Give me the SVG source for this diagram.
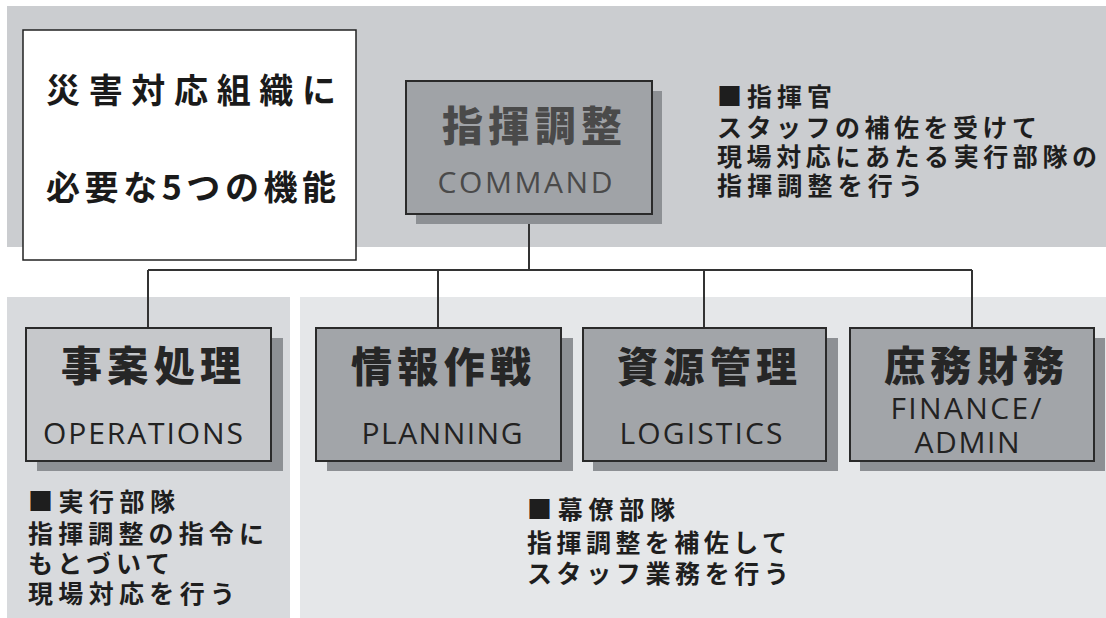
<svg xmlns="http://www.w3.org/2000/svg" width="1106" height="618" viewBox="0 0 1106 618">
<style>
.jp{font-family:"Noto Sans CJK JP","Noto Sans CJK SC",sans-serif;font-weight:700}
.en{font-family:"Open Sans","Liberation Sans",sans-serif;font-weight:400}
.box{stroke:#2a2a2a;stroke-width:2}
.sh{fill:#8d9094}
.big{font-size:41px;fill:#262626;font-weight:900}
.lab{font-size:30px;fill:#222}
.desc{font-size:25px;fill:#1e1e1e}
.conn{stroke:#333;stroke-width:2;fill:none}
</style>
<rect width="1106" height="618" fill="#ffffff"/>
<rect x="7" y="6" width="1099" height="241" fill="#cbcdd0"/>
<rect x="7" y="297" width="283" height="321" fill="#d8dadd"/>
<rect x="300" y="297" width="806" height="321" fill="#e5e7e9"/>

<g id="title">
<rect x="23" y="30" width="333" height="230" fill="#ffffff" stroke="#222" stroke-width="1.5"/>
<text class="jp" x="46" y="103" font-size="34" fill="#1a1a1a" textLength="290" lengthAdjust="spacing">災害対応組織に</text>
<text class="jp" x="46" y="200" font-size="34" fill="#1a1a1a" textLength="290" lengthAdjust="spacing">必要な5つの機能</text>
</g>

<g id="connectors">
<path class="conn" d="M529 214V270M148 270H972M148 270V328M438 270V328M704 270V328M972 270V328"/>
</g>

<g id="command">
<rect class="sh" x="416" y="91" width="246" height="133"/>
<rect class="box" x="406" y="81" width="246" height="133" fill="#a0a3a7"/>
<text class="jp big" x="532" y="141" text-anchor="middle" style="fill:#4a4a4a" textLength="180" lengthAdjust="spacing">指揮調整</text>
<text class="en lab" x="525" y="193" text-anchor="middle" style="fill:#4a4a4a" textLength="175" lengthAdjust="spacing">COMMAND</text>
</g>

<g id="command-desc">
<text class="jp desc" x="717" y="106" textLength="115" lengthAdjust="spacing">■指揮官</text>
<text class="jp desc" x="717" y="137" textLength="320" lengthAdjust="spacing">スタッフの補佐を受けて</text>
<text class="jp desc" x="717" y="166" textLength="380" lengthAdjust="spacing">現場対応にあたる実行部隊の</text>
<text class="jp desc" x="717" y="195" textLength="206" lengthAdjust="spacing">指揮調整を行う</text>
</g>

<g id="operations">
<rect class="sh" x="37" y="338" width="246" height="133"/>
<rect class="box" x="26" y="328" width="245" height="133" fill="#c6c8cb"/>
<text class="jp big" x="151" y="381" text-anchor="middle" textLength="180" lengthAdjust="spacing">事案処理</text>
<text class="en lab" x="143" y="444" text-anchor="middle" textLength="200" lengthAdjust="spacing">OPERATIONS</text>
</g>

<g id="operations-desc">
<text class="jp desc" x="28" y="511" textLength="147" lengthAdjust="spacing">■実行部隊</text>
<text class="jp desc" x="28" y="543" textLength="236" lengthAdjust="spacing">指揮調整の指令に</text>
<text class="jp desc" x="28" y="573" textLength="142" lengthAdjust="spacing">もとづいて</text>
<text class="jp desc" x="28" y="603" textLength="207" lengthAdjust="spacing">現場対応を行う</text>
</g>

<g id="planning">
<rect class="sh" x="327" y="338" width="246" height="133"/>
<rect class="box" x="316" y="328" width="245" height="133" fill="#a2a5a9"/>
<text class="jp big" x="441" y="382" text-anchor="middle" textLength="180" lengthAdjust="spacing">情報作戦</text>
<text class="en lab" x="442" y="444" text-anchor="middle" textLength="161" lengthAdjust="spacing">PLANNING</text>
</g>

<g id="logistics">
<rect class="sh" x="593" y="338" width="245" height="133"/>
<rect class="box" x="583" y="328" width="243" height="133" fill="#a2a5a9"/>
<text class="jp big" x="707" y="382" text-anchor="middle" textLength="180" lengthAdjust="spacing">資源管理</text>
<text class="en lab" x="701" y="444" text-anchor="middle" textLength="163" lengthAdjust="spacing">LOGISTICS</text>
</g>

<g id="finance">
<rect class="sh" x="860" y="338" width="245" height="133"/>
<rect class="box" x="850" y="328" width="244" height="133" fill="#a2a5a9"/>
<text class="jp big" x="974" y="381" text-anchor="middle" textLength="180" lengthAdjust="spacing">庶務財務</text>
<text class="en lab" x="966" y="419" text-anchor="middle" textLength="151" lengthAdjust="spacing">FINANCE/</text>
<text class="en lab" x="967" y="453" text-anchor="middle" textLength="105" lengthAdjust="spacing">ADMIN</text>
</g>

<g id="staff-desc">
<text class="jp desc" x="527" y="519" textLength="148" lengthAdjust="spacing">■幕僚部隊</text>
<text class="jp desc" x="527" y="552" textLength="260" lengthAdjust="spacing">指揮調整を補佐して</text>
<text class="jp desc" x="527" y="583" textLength="262" lengthAdjust="spacing">スタッフ業務を行う</text>
</g>
</svg>
